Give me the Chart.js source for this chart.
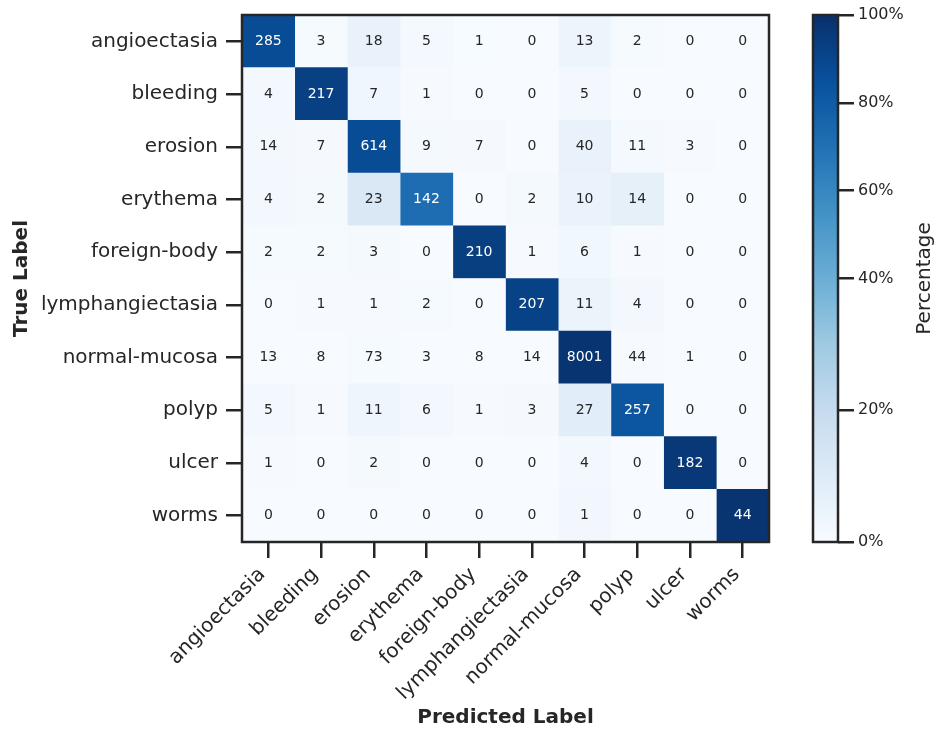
<!DOCTYPE html>
<html>
<head>
<meta charset="utf-8">
<script src="https://cdn.jsdelivr.net/npm/chart.js@4.4.1/dist/chart.umd.min.js"></script>
<style>
  html, body { margin: 0; padding: 0; background: #fff; }
  #wrap { position: relative; width: 935px; height: 730px; overflow: hidden; }
  #cm { position: absolute; left: 0; top: 0; }
  #cb { position: absolute; left: 790px; top: 0; }
</style>
</head>
<body>
<div id="wrap">
  <canvas id="cm" width="800" height="730"></canvas>
  <canvas id="cb" width="145" height="730"></canvas>
</div>
<script>
const predictedLabels = ['angioectasia', 'bleeding', 'erosion', 'erythema', 'foreign-body',
  'lymphangiectasia', 'normal-mucosa', 'polyp', 'ulcer', 'worms'];
const trueLabels = ['angioectasia', 'bleeding', 'erosion', 'erythema', 'foreign-body',
  'lymphangiectasia', 'normal-mucosa', 'polyp', 'ulcer', 'worms'];

// rows = true label, columns = predicted label
const counts = [
  [285, 3, 18, 5, 1, 0, 13, 2, 0, 0],
  [4, 217, 7, 1, 0, 0, 5, 0, 0, 0],
  [14, 7, 614, 9, 7, 0, 40, 11, 3, 0],
  [4, 2, 23, 142, 0, 2, 10, 14, 0, 0],
  [2, 2, 3, 0, 210, 1, 6, 1, 0, 0],
  [0, 1, 1, 2, 0, 207, 11, 4, 0, 0],
  [13, 8, 73, 3, 8, 14, 8001, 44, 1, 0],
  [5, 1, 11, 6, 1, 3, 27, 257, 0, 0],
  [1, 0, 2, 0, 0, 0, 4, 0, 182, 0],
  [0, 0, 0, 0, 0, 0, 1, 0, 0, 44]
];

const cbTickValues = [0, 20, 40, 60, 80, 100];
const cbTickLabels = ['0%', '20%', '40%', '60%', '80%', '100%'];
const normCenter = 40; // two-slope colour norm, 40% sits mid-bar

const INK = '#262626';
const blues = ['#f7fbff', '#deebf7', '#c6dbef', '#9ecae1', '#6baed6',
  '#4292c6', '#2171b5', '#08519c', '#08306b'];

Chart.defaults.font.family = "'DejaVu Sans', sans-serif";
Chart.defaults.color = INK;

function norm(pct) {
  if (pct <= normCenter) return 0.5 * pct / normCenter;
  return 0.5 + 0.5 * (pct - normCenter) / (100 - normCenter);
}

function hexRgb(h) {
  return [1, 3, 5].map(i => parseInt(h.substr(i, 2), 16));
}

function bluesAt(t) {
  t = Math.min(1, Math.max(0, t));
  const pos = t * (blues.length - 1);
  const i = Math.min(blues.length - 2, Math.floor(pos));
  const f = pos - i;
  const a = hexRgb(blues[i]), b = hexRgb(blues[i + 1]);
  return a.map((v, k) => Math.round(v + (b[k] - v) * f));
}

function luminance(rgb) {
  const c = rgb.map(v => {
    v /= 255;
    return v <= 0.03928 ? v / 12.92 : Math.pow((v + 0.055) / 1.055, 2.4);
  });
  return 0.2126 * c[0] + 0.7152 * c[1] + 0.0722 * c[2];
}

const rowSums = counts.map(r => r.reduce((s, v) => s + v, 0));
const cellRgb = (r, c) => bluesAt(norm(100 * counts[r][c] / rowSums[r]));

const framePlugin = {
  id: 'frame',
  afterDraw(chart) {
    const { ctx, chartArea: a } = chart;
    ctx.save();
    ctx.strokeStyle = INK;
    ctx.lineWidth = 2.5;
    ctx.strokeRect(a.left, a.top, a.right - a.left, a.bottom - a.top);
    ctx.restore();
  }
};

const cellTextPlugin = {
  id: 'cellText',
  afterDatasetsDraw(chart) {
    const ctx = chart.ctx;
    ctx.save();
    ctx.font = "14px 'DejaVu Sans', sans-serif";
    ctx.textAlign = 'center';
    ctx.textBaseline = 'middle';
    chart.data.datasets.forEach((ds, c) => {
      chart.getDatasetMeta(c).data.forEach((bar, r) => {
        const p = bar.getCenterPoint();
        ctx.fillStyle = luminance(cellRgb(r, c)) > 0.408 ? INK : '#ffffff';
        ctx.fillText(String(counts[r][c]), p.x, p.y);
      });
    });
    ctx.restore();
  }
};

// colour bar label reads bottom-to-top like matplotlib
const cbTitlePlugin = {
  id: 'cbTitle',
  afterDraw(chart) {
    const { ctx, chartArea: a } = chart;
    const y = chart.scales.y;
    ctx.save();
    ctx.font = "20px 'DejaVu Sans', sans-serif";
    ctx.fillStyle = INK;
    ctx.textAlign = 'center';
    ctx.textBaseline = 'middle';
    ctx.translate(y.right - 10, (a.top + a.bottom) / 2);
    ctx.rotate(-Math.PI / 2);
    ctx.fillText('Percentage', 0, 0);
    ctx.restore();
  }
};

const tickGrid = {
  drawOnChartArea: false,
  drawTicks: true,
  tickLength: 16,
  lineWidth: 2.5,
  color: INK,
  offset: false
};

// one floating-bar dataset per predicted column
const datasets = predictedLabels.map((name, c) => ({
  label: name,
  data: trueLabels.map(() => [c, c + 1]),
  backgroundColor: trueLabels.map((_, r) => 'rgb(' + cellRgb(r, c).join(',') + ')'),
  borderWidth: 0,
  barPercentage: 1,
  categoryPercentage: 1,
  grouped: false
}));

new Chart(document.getElementById('cm'), {
  type: 'bar',
  data: { labels: trueLabels, datasets },
  options: {
    responsive: false,
    animation: false,
    indexAxis: 'y',
    layout: { padding: { left: 0, right: 31, top: 15, bottom: 0 } },
    plugins: { legend: { display: false }, tooltip: { enabled: false } },
    scales: {
      x: {
        type: 'linear',
        min: 0,
        max: predictedLabels.length,
        afterBuildTicks: s => { s.ticks = predictedLabels.map((_, i) => ({ value: i + 0.5 })); },
        afterFit: s => { s.height = 188; },
        grid: tickGrid,
        border: { display: false },
        ticks: {
          autoSkip: false,
          minRotation: 45,
          maxRotation: 45,
          padding: 5,
          labelOffset: -6,
          font: { size: 20 },
          callback: (v, i) => predictedLabels[i]
        },
        title: {
          display: true,
          text: 'Predicted Label',
          font: { size: 20, weight: 'bold' },
          padding: 0
        }
      },
      y: {
        afterFit: s => { s.width = 242; s.paddingTop = 0; s.paddingBottom = 0; },
        grid: tickGrid,
        border: { display: false },
        ticks: { autoSkip: false, padding: 8, font: { size: 20 } },
        title: {
          display: true,
          text: 'True Label',
          font: { size: 20, weight: 'bold' },
          padding: { top: 10, bottom: 0 }
        }
      }
    }
  },
  plugins: [cellTextPlugin, framePlugin]
});

// colour bar
new Chart(document.getElementById('cb'), {
  type: 'bar',
  data: {
    labels: ['Percentage'],
    datasets: [{
      data: [[0, 1]],
      borderWidth: 0,
      barPercentage: 1,
      categoryPercentage: 1,
      backgroundColor: ctx => {
        const a = ctx.chart.chartArea;
        if (!a) return blues[4];
        const g = ctx.chart.ctx.createLinearGradient(0, a.bottom, 0, a.top);
        blues.forEach((col, i) => g.addColorStop(i / (blues.length - 1), col));
        return g;
      }
    }]
  },
  options: {
    responsive: false,
    animation: false,
    layout: { padding: { left: 23, right: 0, top: 15, bottom: 188 } },
    plugins: { legend: { display: false }, tooltip: { enabled: false } },
    scales: {
      x: { display: false },
      y: {
        position: 'right',
        min: 0,
        max: 1,
        afterBuildTicks: s => { s.ticks = cbTickValues.map(v => ({ value: norm(v) })); },
        afterFit: s => { s.width = 97; s.paddingTop = 0; s.paddingBottom = 0; },
        grid: tickGrid,
        border: { display: false },
        ticks: {
          autoSkip: false,
          padding: 4,
          font: { size: 16 },
          callback: (v, i) => cbTickLabels[i]
        }
      }
    }
  },
  plugins: [framePlugin, cbTitlePlugin]
});
</script>
</body>
</html>
